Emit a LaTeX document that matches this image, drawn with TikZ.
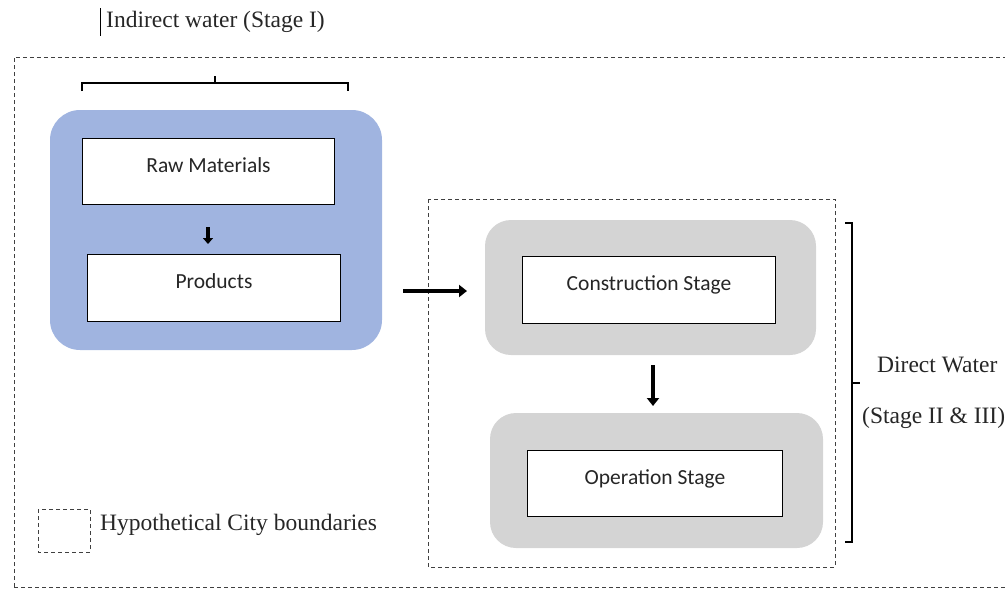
\documentclass[tikz,border=0pt]{standalone}
\usepackage{fontspec}
\setmainfont{Liberation Serif}
\newfontfamily\boxfont{Carlito}
\usetikzlibrary{arrows.meta,positioning}
\definecolor{stageblue}{RGB}{160,180,224}
\definecolor{stagegray}{RGB}{212,212,212}
\newcommand{\lifttext}[1]{\raisebox{13pt}{#1}}
\tikzset{
  stagebox/.style={draw, rectangle, fill=white, line width=1pt, text=black!85, font=\boxfont\fontsize{21.5}{24}\selectfont, anchor=north west},
  cityline/.style={dash pattern=on 4pt off 3pt, line width=0.8pt, draw=black!75},
  flow/.style={-{Triangle[length=8pt,width=12pt]}, line width=4.5pt},
  bracket/.style={line width=1.6pt},
  serifnote/.style={text=black!85, font=\fontsize{23.5}{26}\selectfont}
}
\begin{document}
\begin{tikzpicture}[x=1pt,y=-1pt]
  \useasboundingbox (0,0) rectangle (1005,590);
  % outer boundary
  \draw[cityline] (14,587) -- (14,57) -- (1010,57);
  \draw[cityline] (14,587) -- (1010,587);
  % indirect water
  \node[serifnote, anchor=west, inner xsep=0pt] (indirect) at (106,22) {Indirect water (Stage I)};
  \draw[line width=0.8pt] (100,8) -- (100,36);
  \draw[bracket] (82,91) -- (82,83) -- (348,83) -- (348,91);
  \draw[bracket] (215,83) -- (215,76);
  \fill[stageblue, rounded corners=30pt] (50,110) rectangle (382,350);
  \node[stagebox, minimum width=252pt, minimum height=66pt] (raw) at (82,138) {\lifttext{Raw Materials}};
  \node[stagebox, minimum width=253pt, minimum height=67pt] (products) at (87,254) {\lifttext{Products}};
  \draw[flow, -{Triangle[length=6pt,width=10pt]}, line width=4pt] (raw.south -| 208,0) ++(0,22) -- (208,244);
  % direct water
  \draw[cityline] (428,199) rectangle (835,567);
  \fill[stagegray, rounded corners=26pt] (485,220) rectangle (816,355);
  \fill[stagegray, rounded corners=26pt] (490,413) rectangle (823,548);
  \node[stagebox, minimum width=253pt, minimum height=67pt] (construction) at (522,256) {\lifttext{Construction Stage}};
  \node[stagebox, minimum width=255pt, minimum height=66pt] (operation) at (527,450) {\lifttext{Operation Stage}};
  \coordinate (feed) at (403,291);
  \draw[flow] (feed) -- (467,291);
  \draw[flow] (construction.south -| 653,0) ++(0,41) -- (653,406);
  \draw[bracket] (845,223) -- (852,223) -- (852,542) -- (845,542);
  \draw[bracket] (852,383) -- (860,383);
  \node[serifnote, anchor=west, inner xsep=0pt] (directa) at (877,365) {Direct Water};
  \node[serifnote, anchor=west, inner xsep=0pt] (directb) at (862,418) {(Stage II \& III)};
  % legend
  \draw[cityline] (38,509) rectangle (90,552);
  \node[serifnote, anchor=west, inner xsep=0pt] (legend) at (100,525) {Hypothetical City boundaries};
\end{tikzpicture}
\end{document}
